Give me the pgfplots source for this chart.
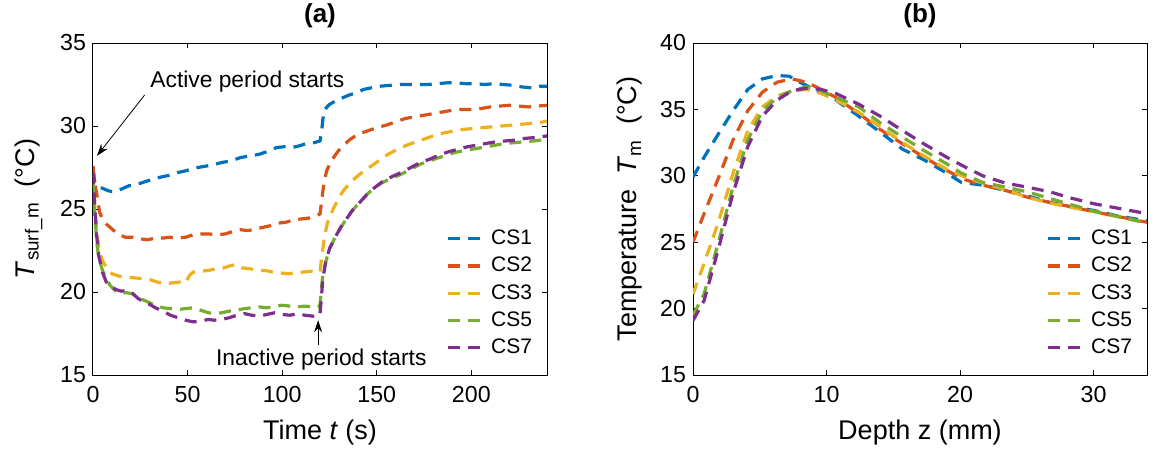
\documentclass[border=0pt]{standalone}
\usepackage{fontspec}
\setmainfont{Liberation Sans}
\usepackage{pgfplots}
\pgfplotsset{compat=1.18}
\usetikzlibrary{arrows.meta}

\definecolor{c1}{rgb}{0,0.447,0.741}
\definecolor{c2}{rgb}{0.85,0.325,0.098}
\definecolor{c3}{rgb}{0.929,0.694,0.125}
\definecolor{c5}{rgb}{0.466,0.674,0.188}
\definecolor{c7}{rgb}{0.494,0.184,0.556}

\pgfplotsset{
  panel/.style={
    scale only axis, width=227pt, height=166pt,
    axis line style={line width=0.5pt},
    tick style={line width=0.5pt, black},
    major tick length=2.4pt,
    tick align=inside,
    /pgf/number format/assume math mode=true,
    tick label style={font=\fontsize{11.6}{13}\selectfont},
    xticklabel style={yshift=-2pt},
    label style={font=\fontsize{13.5}{15}\selectfont},
    xlabel style={yshift=-2pt},
    ylabel style={yshift=2pt},
    title style={font=\bfseries\fontsize{13}{15}\selectfont, yshift=-2pt},
    legend style={draw=none, fill=none, font=\fontsize{10.5}{12}\selectfont,
      at={(0.99,0.03)}, anchor=south east, row sep=0.8pt},
    legend cell align=left,
    legend image code/.code={\draw[##1] (0pt,0pt) -- (19pt,0pt);},
    every axis plot/.append style={line width=1.6pt, dash pattern=on 6pt off 4pt},
    ymin=15,
  }
}

\begin{document}
\begin{tikzpicture}
\useasboundingbox (0,0) rectangle (577.5pt,-227.5pt);

% ---- (a) surface temperature vs time
\begin{axis}[panel,
  at={(46.5pt,-187.5pt)}, anchor=south west,
  xmin=0, xmax=240, ymax=35,
  xtick={0,50,100,150,200}, ytick={15,20,25,30,35},
  title={(a)},
  xlabel={Time \textit{t} (s)},
  ylabel={\textit{T}\textsubscript{surf\_m}\ \ (°C)},
  ]
\addplot[c1] coordinates {(0,27.3) (1,26.6) (2,26.4) (4,26.3) (6,26.2) (8,26.1) (10,26.05) (13,26.1) (16,26.25) (19,26.4) (22,26.45) (25,26.55) (29,26.7) (33,26.85) (37,26.95) (41,27.05) (45,27.2) (49,27.3) (53,27.45) (58,27.55) (63,27.65) (68,27.8) (73,27.9) (78,28.1) (83,28.2) (88,28.3) (93,28.5) (97,28.7) (101,28.75) (105,28.7) (109,28.8) (113,28.95) (117,29.0) (120,29.1) (120.8,29.6) (121.5,30.4) (122.5,31.0) (125,31.3) (128,31.5) (131,31.65) (135,31.85) (139,32.0) (143,32.2) (147,32.3) (152,32.4) (157,32.45) (162,32.5) (167,32.5) (172,32.5) (177,32.5) (182,32.55) (187,32.6) (192,32.6) (197,32.55) (202,32.55) (207,32.5) (212,32.55) (217,32.5) (222,32.45) (227,32.35) (232,32.3) (236,32.4) (240,32.4)};
\addlegendentry{CS1}
\addplot[c2] coordinates {(0,27.6) (1,26.5) (2,25.9) (3.5,24.8) (5,24.4) (7,24.1) (10,23.8) (13,23.5) (17,23.3) (21,23.3) (25,23.2) (29,23.15) (33,23.25) (37,23.25) (41,23.3) (45,23.25) (49,23.3) (53,23.45) (57,23.5) (61,23.5) (66,23.45) (70,23.5) (74,23.65) (78,23.75) (82,23.7) (86,23.8) (90,23.9) (94,24.0) (98,24.15) (102,24.2) (106,24.35) (110,24.4) (114,24.45) (118,24.6) (120,24.7) (121,25.6) (122,26.5) (123.5,27.3) (126,27.9) (129,28.4) (132,28.8) (136,29.2) (140,29.5) (145,29.7) (150,29.9) (155,30.05) (160,30.25) (165,30.45) (170,30.55) (175,30.65) (180,30.75) (185,30.85) (190,30.95) (195,31.0) (200,31.0) (205,31.05) (210,31.15) (215,31.2) (220,31.25) (225,31.2) (230,31.15) (235,31.2) (240,31.25)};
\addlegendentry{CS2}
\addplot[c3] coordinates {(0,27.0) (1,25.0) (2,23.6) (3.5,22.4) (5,21.9) (7,21.5) (10,21.1) (14,20.95) (18,20.9) (22,20.85) (26,20.8) (30,20.75) (34,20.6) (38,20.5) (42,20.55) (46,20.6) (49,20.55) (51,21.0) (53,21.2) (57,21.25) (61,21.3) (65,21.4) (69,21.45) (73,21.6) (76,21.65) (79,21.45) (83,21.4) (87,21.3) (91,21.3) (95,21.2) (99,21.15) (103,21.1) (107,21.15) (111,21.2) (115,21.25) (118,21.2) (120,21.2) (121,22.2) (122.5,23.4) (124,24.2) (127,25.0) (130,25.7) (133,26.2) (137,26.7) (141,27.1) (146,27.5) (151,27.9) (156,28.3) (161,28.6) (166,28.85) (171,29.05) (176,29.25) (181,29.45) (186,29.6) (191,29.7) (196,29.8) (201,29.85) (206,29.9) (211,29.95) (216,30.0) (221,30.05) (226,30.1) (231,30.15) (236,30.2) (240,30.3)};
\addlegendentry{CS3}
\addplot[c5] coordinates {(0,26.5) (1,24.7) (2,23.0) (3,22.1) (5,21.3) (7,20.8) (9,20.4) (12,20.05) (15,19.95) (18,19.95) (21,19.9) (24,19.65) (27,19.5) (30,19.35) (33,19.2) (37,19.05) (41,19.0) (45,18.95) (49,19.0) (53,19.05) (57,18.9) (61,18.75) (64,18.7) (68,18.75) (72,18.85) (76,18.9) (80,19.0) (84,19.05) (88,19.1) (92,19.05) (96,19.15) (100,19.2) (104,19.15) (108,19.1) (112,19.15) (116,19.1) (119,19.1) (120,19.2) (120.7,20.2) (121.5,21.0) (123,21.8) (125,22.6) (128,23.3) (131,23.9) (134,24.4) (137,24.9) (141,25.4) (145,25.9) (149,26.3) (153,26.6) (158,26.85) (163,27.1) (168,27.4) (173,27.7) (178,27.9) (183,28.1) (188,28.3) (193,28.45) (198,28.55) (203,28.65) (208,28.75) (213,28.85) (218,28.95) (223,29.0) (228,29.05) (233,29.1) (240,29.2)};
\addlegendentry{CS5}
\addplot[c7] coordinates {(0,27.2) (1,25.0) (2,23.3) (3,22.2) (5,21.2) (7,20.6) (9,20.4) (12,20.15) (15,20.05) (18,20.1) (21,19.9) (24,19.6) (27,19.4) (30,19.25) (33,19.05) (37,18.85) (41,18.6) (45,18.45) (49,18.3) (53,18.2) (57,18.25) (61,18.35) (64,18.3) (68,18.35) (72,18.45) (76,18.6) (80,18.7) (84,18.6) (88,18.55) (92,18.65) (96,18.75) (100,18.65) (104,18.6) (108,18.7) (112,18.6) (116,18.55) (119,18.5) (120,18.7) (120.7,19.6) (121.5,20.8) (123,21.8) (125,22.6) (128,23.3) (131,23.9) (134,24.4) (137,24.9) (141,25.4) (145,25.9) (149,26.3) (153,26.65) (158,26.95) (163,27.2) (168,27.5) (173,27.8) (178,28.0) (183,28.25) (188,28.45) (193,28.6) (198,28.75) (203,28.85) (208,28.95) (213,29.05) (218,29.1) (223,29.15) (228,29.25) (233,29.3) (240,29.4)};
\addlegendentry{CS7}

\node[font=\fontsize{11.4}{13}\selectfont] at (axis cs:81.6,32.65) {Active period starts};
\draw[-{Stealth[length=6pt,width=4pt]}, line width=0.4pt] (axis cs:27.3,31.87) -- (axis cs:2.1,28.2);
\node[font=\fontsize{11.4}{13}\selectfont] at (axis cs:120.7,15.9) {Inactive period starts};
\draw[-{Stealth[length=6pt,width=4pt]}, line width=0.4pt] (axis cs:119,16.8) -- (axis cs:119,18.3);
\end{axis}

% ---- (b) temperature vs depth
\begin{axis}[panel,
  at={(346.5pt,-187.5pt)}, anchor=south west,
  xmin=0, xmax=34, ymax=40,
  xtick={0,10,20,30}, ytick={15,20,25,30,35,40},
  title={(b)},
  xlabel={Depth z (mm)},
  ylabel={Temperature\ \ \textit{T}\textsubscript{m}\ \ (°C)},
  ]
\addplot[c1] coordinates {(0,29.9) (0.83,31.4) (1.93,33.2) (3.0,34.9) (4.1,36.5) (5.2,37.3) (6.3,37.55) (7.2,37.5) (8.0,37.05) (9.1,36.5) (10.7,35.7) (12.4,34.5) (14.0,33.3) (15.7,32.0) (17.3,31.2) (19.0,30.2) (20.1,29.5) (21.7,29.3) (23.4,28.9) (25.0,28.5) (26.7,28.0) (28.4,27.65) (30.0,27.4) (31.7,27.0) (34,26.6)};
\addlegendentry{CS1}
\addplot[c2] coordinates {(0,25.0) (0.83,27.15) (1.93,29.9) (3.0,32.7) (4.1,34.9) (5.2,36.3) (6.3,37.05) (7.4,37.3) (8.5,37.05) (9.6,36.5) (10.7,35.9) (12.4,34.7) (14.0,33.5) (15.7,32.4) (17.3,31.4) (19.0,30.4) (20.4,29.7) (21.7,29.3) (23.4,28.9) (25.0,28.4) (26.7,28.0) (28.4,27.65) (30.0,27.3) (34,26.5)};
\addlegendentry{CS2}
\addplot[c3] coordinates {(0,21.1) (0.83,23.4) (1.93,26.6) (3.0,30.2) (4.1,33.4) (5.2,35.2) (6.3,36.0) (7.4,36.4) (8.5,36.5) (9.6,36.2) (10.7,35.7) (12.4,34.8) (14.0,33.7) (15.7,32.5) (17.3,31.5) (19.0,30.5) (20.4,29.9) (21.7,29.45) (23.4,28.95) (25.0,28.4) (26.7,27.95) (28.4,27.6) (30.0,27.3) (34,26.45)};
\addlegendentry{CS3}
\addplot[c5] coordinates {(0,19.5) (0.83,21.1) (1.93,25.1) (3.0,29.2) (4.1,32.7) (5.2,34.9) (6.3,35.9) (7.4,36.4) (8.5,36.7) (9.6,36.4) (10.7,35.9) (12.4,35.2) (14.0,34.0) (15.7,32.9) (17.3,31.9) (19.0,30.9) (20.1,30.2) (21.7,29.5) (23.4,29.15) (25.0,28.8) (26.7,28.3) (28.4,27.8) (30.0,27.35) (34,26.45)};
\addlegendentry{CS5}
\addplot[c7] coordinates {(0,19.1) (0.83,20.6) (1.93,24.6) (3.0,28.7) (4.1,32.2) (5.2,34.5) (6.3,35.7) (7.4,36.4) (8.5,36.6) (9.6,36.5) (10.7,36.2) (12.4,35.4) (14.0,34.5) (15.7,33.4) (17.3,32.4) (19.0,31.4) (20.4,30.65) (21.7,30.0) (23.4,29.45) (25.0,29.15) (26.7,28.8) (28.4,28.3) (30.0,27.9) (34,27.15)};
\addlegendentry{CS7}
\end{axis}
\end{tikzpicture}
\end{document}
